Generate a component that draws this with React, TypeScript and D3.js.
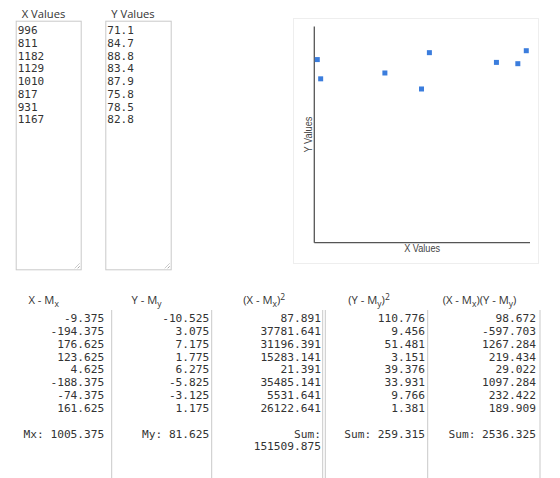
import { scaleLinear } from "d3";

const xValues = [996, 811, 1182, 1129, 1010, 817, 931, 1167];
const yValues = [71.1, 84.7, 88.8, 83.4, 87.9, 75.8, 78.5, 82.8];

const xDev = [-9.375, -194.375, 176.625, 123.625, 4.625, -188.375, -74.375, 161.625];
const yDev = [-10.525, 3.075, 7.175, 1.775, 6.275, -5.825, -3.125, 1.175];
const xDevSq = [87.891, 37781.641, 31196.391, 15283.141, 21.391, 35485.141, 5531.641, 26122.641];
const yDevSq = [110.776, 9.456, 51.481, 3.151, 39.376, 33.931, 9.766, 1.381];
const xyProd = [98.672, -597.703, 1267.284, 219.434, 29.022, 1097.284, 232.422, 189.909];

const meanX = 1005.375;
const meanY = 81.625;
const sumXDevSq = 151509.875;
const sumYDevSq = 259.315;
const sumXY = 2536.325;

const X_DOMAIN = [805.7, 1188.6];
const Y_DOMAIN = [0, 100];

const PLOT = { left: 314.3, right: 530, top: 26.5, bottom: 242.7 };
const MONO = "'DejaVu Sans Mono', monospace";
const SANS = "'Open Sans', 'Noto Sans', sans-serif";
const LINE_H = 12.75;
const TEXT = "#333";
const BORDER = "#c9c9c9";

function TextBox({ x, w, label, values }: { x: number; w: number; label: string; values: number[] }) {
  const top = 20.7;
  const bottom = 269.3;
  return (
    <g>
      <text x={x + 6} y={18} fontFamily={SANS} fontSize={11.2} fill={TEXT}>
        {label}
      </text>
      <rect x={x + 0.5} y={top + 0.5} width={w} height={bottom - top} fill="#fff" stroke={BORDER} />
      <line x1={x + w - 3} y1={bottom - 1} x2={x + w - 1} y2={bottom - 3} stroke="#aaa" />
      <line x1={x + w - 6} y1={bottom - 1} x2={x + w - 1} y2={bottom - 6} stroke="#ccc" />
      {values.map((v, i) => (
        <text key={i} x={x + 2} y={34 + i * LINE_H} fontFamily={MONO} fontSize={11} fill={TEXT}>
          {String(v)}
        </text>
      ))}
    </g>
  );
}

function Scatter() {
  const sx = scaleLinear().domain(X_DOMAIN).range([PLOT.left, PLOT.right]);
  const sy = scaleLinear().domain(Y_DOMAIN).range([PLOT.bottom, PLOT.top]);
  return (
    <g>
      <rect x={293.5} y={18.5} width={245} height={245} fill="#fff" stroke="#eeeeee" />
      <line x1={PLOT.left} y1={PLOT.top} x2={PLOT.left} y2={PLOT.bottom} stroke="#555" strokeWidth={1.3} />
      <line x1={PLOT.left} y1={PLOT.bottom} x2={PLOT.right} y2={PLOT.bottom} stroke="#555" strokeWidth={1.3} />
      {xValues.map((xv, i) => (
        <rect
          key={i}
          x={sx(xv) - 2.5}
          y={sy(yValues[i]) - 2.5}
          width={5}
          height={5}
          fill="#3b7ddd"
        />
      ))}
      <text
        x={(PLOT.left + PLOT.right) / 2}
        y={251.5}
        textAnchor="middle"
        fontFamily="'Liberation Sans', Arial, sans-serif"
        fontSize={10.5}
        textLength={36}
        lengthAdjust="spacingAndGlyphs"
        fill="#444"
      >
        X Values
      </text>
      <text
        transform={`translate(311.5, ${(PLOT.top + PLOT.bottom) / 2}) rotate(-90)`}
        textAnchor="middle"
        fontFamily="'Liberation Sans', Arial, sans-serif"
        fontSize={10.5}
        textLength={36}
        lengthAdjust="spacingAndGlyphs"
        fill="#444"
      >
        Y Values
      </text>
    </g>
  );
}

const COLS = [
  { right: 104.3, values: xDev, footer: [`Mx: ${meanX.toFixed(3)}`] },
  { right: 209.3, values: yDev, footer: [`My: ${meanY.toFixed(3)}`] },
  { right: 321, values: xDevSq, footer: ["Sum:", sumXDevSq.toFixed(3)] },
  { right: 425, values: yDevSq, footer: [`Sum: ${sumYDevSq.toFixed(3)}`] },
  { right: 536, values: xyProd, footer: [`Sum: ${sumXY.toFixed(3)}`] },
];

const DIVIDERS = [111.7, 211.7, 322.7, 325.3, 427.7, 540];

function Header({ x, parts }: { x: number; parts: [string, string][] }) {
  return (
    <text x={x} y={304} fontFamily={SANS} fontSize={11.2} fill={TEXT}>
      {parts.map(([t, kind], i) =>
        kind === "sub" ? (
          <tspan key={i} fontSize={8.5} dy={3}>
            {t}
          </tspan>
        ) : kind === "sup" ? (
          <tspan key={i} fontSize={8.5} dy={-4.5}>
            {t}
          </tspan>
        ) : kind === "reset-sub" ? (
          <tspan key={i} dy={-3}>
            {t}
          </tspan>
        ) : (
          <tspan key={i}>{t}</tspan>
        )
      )}
    </text>
  );
}

function Table() {
  const rowY = (i: number) => 322.3 + i * LINE_H;
  return (
    <g>
      <Header x={28.5} parts={[["X - M", ""], ["x", "sub"]]} />
      <Header x={131.5} parts={[["Y - M", ""], ["y", "sub"]]} />
      <Header x={243.3} parts={[["(X - M", ""], ["x", "sub"], [")", "reset-sub"], ["2", "sup"]]} />
      <Header x={348.3} parts={[["(Y - M", ""], ["y", "sub"], [")", "reset-sub"], ["2", "sup"]]} />
      <Header
        x={442.7}
        parts={[["(X - M", ""], ["x", "sub"], [")(Y - M", "reset-sub"], ["y", "sub"], [")", "reset-sub"]]}
      />
      {DIVIDERS.map((d, i) => (
        <line key={i} x1={d} y1={310} x2={d} y2={478} stroke={BORDER} />
      ))}
      {COLS.map((c, ci) => (
        <g key={ci} fontFamily={MONO} fontSize={11.2} fill={TEXT} textAnchor="end">
          {c.values.map((v, i) => (
            <text key={i} x={c.right} y={rowY(i)}>
              {v.toFixed(3)}
            </text>
          ))}
          {c.footer.map((f, i) => (
            <text key={`f${i}`} x={c.right} y={rowY(9) + 0.5 + i * LINE_H}>
              {f}
            </text>
          ))}
        </g>
      ))}
    </g>
  );
}

export default function App() {
  return (
    <svg
      width={560}
      height={478}
      style={{ position: "absolute", left: 0, top: 0, background: "#fff" }}
    >
      <TextBox x={15.7} w={65} label="X Values" values={xValues} />
      <TextBox x={105.3} w={65.4} label="Y Values" values={yValues} />
      <Scatter />
      <Table />
    </svg>
  );
}
